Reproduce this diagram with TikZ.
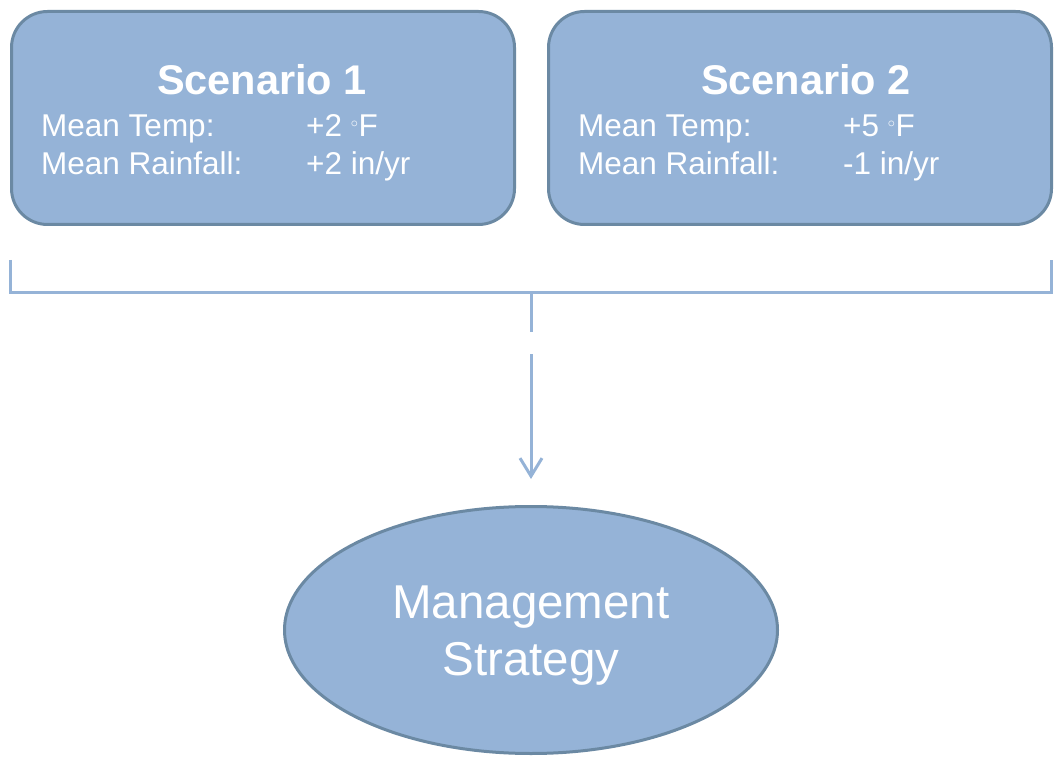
\documentclass[tikz,border=0pt]{standalone}
\usepackage{fontspec}
\setmainfont{Liberation Sans}
\usetikzlibrary{math}
\usetikzlibrary{arrows.meta}
\usetikzlibrary{shapes.geometric}
\definecolor{boxfill}{RGB}{149,179,215}
\definecolor{boxline}{RGB}{107,137,163}
\tikzset{
	scen/.style={draw=boxline,fill=boxfill,line width=3pt,rounded corners=36pt,
		minimum width=503pt,minimum height=213pt,inner sep=0pt,outer sep=0pt},
	scentitle/.style={font=\fontsize{41.5}{49}\selectfont\bfseries,text=white,inner sep=0pt,anchor=base},
	info/.style={font=\fontsize{31.5}{38}\selectfont,text=white,inner sep=0pt,anchor=base west},
	link/.style={draw=boxfill,line width=3pt}
}
\newcommand{\degF}{${}^{\scriptscriptstyle\circ}$F}

\begin{document}
\begin{tikzpicture}[x=1pt,y=-1pt]
	\tikzmath{\dx=537; \dline=38;
	\sax=263; \say=118;
	\sbx=\sax+\dx; \sby=\say;
	\tax=\sax-1; \tay=95;
	\tbx=\sbx+6; \tby=\tay;
	\lax=41; \lay=137;
	\lbx=\lax+\dx; \lby=\lay;
	\vax=306; \vbx=\vax+\dx;
	\brx=10; \bry=293; \brtop=260; \brr=1051;
	\stx=531; \stgap=332; \stres=354;
	\ex=531; \ey=630;
	}
	\useasboundingbox (0,0) rectangle (1055,759);
	\node[scen] (sa) at (\sax,\say) {};
	\node[scen] (sb) at (\sbx,\sby) {};
	\node[scentitle] (sat) at (\tax,\tay) {Scenario 1};
	\node[scentitle] (sbt) at (\tbx,\tby) {Scenario 2};
	\node[info] (satemp) at (\lax,\lay) {Mean Temp:};
	\node[info] (sarain) at (\lax,\lay+\dline) {Mean Rainfall:};
	\node[info] (satempv) at (\vax,\lay) {+2 \degF};
	\node[info] (sarainv) at (\vax,\lay+\dline) {+2 in/yr};
	\node[info] (sbtemp) at (\lbx,\lby) {Mean Temp:};
	\node[info] (sbrain) at (\lbx,\lby+\dline) {Mean Rainfall:};
	\node[info] (sbtempv) at (\vbx,\lby) {+5 \degF};
	\node[info] (sbrainv) at (\vbx,\lby+\dline) {-1 in/yr};
	\node[ellipse,draw=boxline,fill=boxfill,line width=3pt,inner sep=0pt,
		minimum width=493pt,minimum height=247pt] (ms) at (\ex,\ey) {};
	\node[text=white,align=center,inner sep=0pt,
		font=\fontsize{47.5}{57}\selectfont] (mst) at (\ex,\ey+6) {Management\\Strategy};
	\coordinate (bla) at (\brx,\brtop);
	\coordinate (blb) at (\brx,\bry);
	\coordinate (bra) at (\brr,\brtop);
	\coordinate (brb) at (\brr,\bry);
	\coordinate (sta) at (\stx,\bry);
	\coordinate (stb) at (\stx,\stgap);
	\coordinate (stc) at (\stx,\stres);
	\draw[link] (bla) -- (blb) -- (brb) -- (bra);
	\draw[link] (sta) -- (stb);
	\draw[link,-{Straight Barb[length=18pt,width=22pt]},shorten >=26pt] (stc) -- (ms.north);
\end{tikzpicture}
\end{document}
